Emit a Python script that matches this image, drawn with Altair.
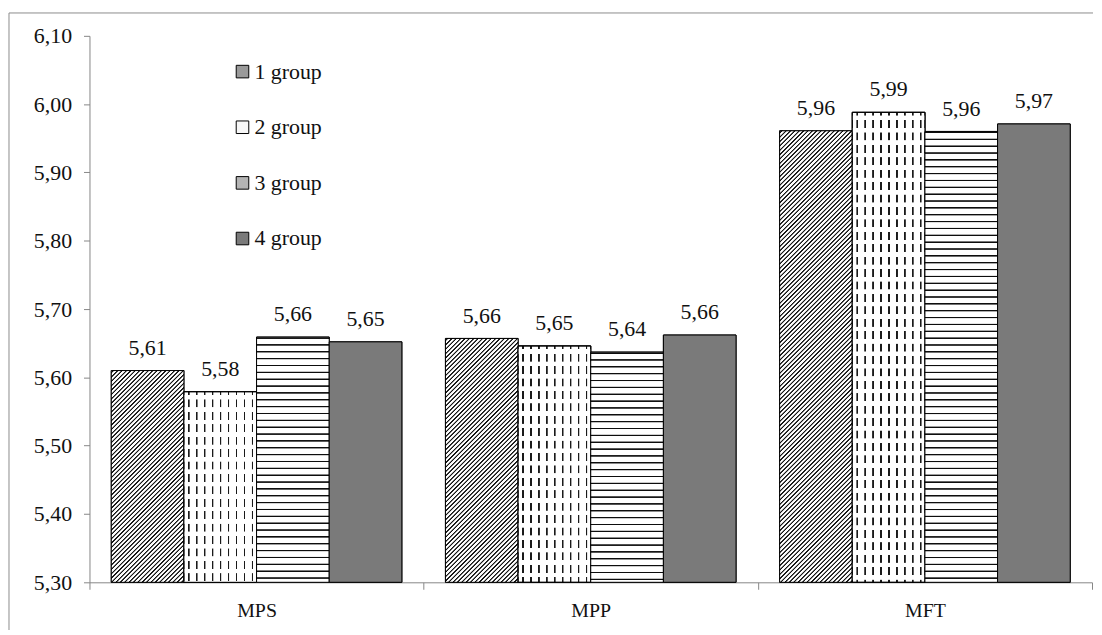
import altair as alt
import pandas as pd

# ---------------- data ----------------
categories = ["MPS", "MPP", "MFT"]
groups = ["1 group", "2 group", "3 group", "4 group"]
values_mps = [5.610, 5.579, 5.659, 5.652]
values_mpp = [5.657, 5.646, 5.637, 5.662]
values_mft = [5.961, 5.988, 5.960, 5.971]
y_ticks = [5.30, 5.40, 5.50, 5.60, 5.70, 5.80, 5.90, 6.00, 6.10]
legend_colors = ["#9a9a9a", "#f7f7f7", "#b4b4b4", "#7a7a7a"]

rows = []
for cat, vals in zip(categories, [values_mps, values_mpp, values_mft]):
    for g, v in zip(groups, vals):
        rows.append({"category": cat, "group": g, "value": v})
df = pd.DataFrame(rows)
df["label"] = df["value"].map(lambda v: f"{v:.2f}".replace(".", ","))

# ---------------- layout ----------------
W, H = 1009, 550
Y_MIN, Y_MAX = 5.30, 6.10
PAD_OUTER = 0.30
px_per_unit = H / (Y_MAX - Y_MIN)
bar_w = (W / len(categories)) / (len(groups) + 2 * PAD_OUTER)
FONT = "Liberation Serif"


def stripe_stops(length, period, core, edge, line, bg, start=0.0):
    """Soft-edged stripes (pattern fill emulated with a linear gradient)."""
    stops = [{"offset": 0, "color": bg}]
    a = start
    last = 0.0
    while a < length:
        pts = [(a, bg), (a + edge, line), (a + edge + core, line),
               (a + 2 * edge + core, bg)]
        for p, c in pts:
            p = min(max(p, last), length)
            last = p
            stops.append({"offset": round(p / length, 5), "color": c})
        a += period
    stops.append({"offset": 1, "color": bg})
    return stops


def grad(stops, x1, y1, x2, y2):
    return {"gradient": "linear", "x1": x1, "y1": y1, "x2": x2, "y2": y2,
            "stops": stops}


x_enc = alt.X("category:N", sort=categories,
              scale=alt.Scale(domain=categories, paddingInner=0, paddingOuter=0),
              axis=alt.Axis(title=None, labelAngle=0, tickBand="extent",
                            domainColor="#868686", tickColor="#868686",
                            tickSize=7, labelPadding=11, labelFont=FONT,
                            labelFontSize=20, labelColor="#111111", grid=False))
xo_enc = alt.XOffset("group:N", sort=groups,
                     scale=alt.Scale(domain=groups, paddingInner=0,
                                     paddingOuter=PAD_OUTER))
y_enc = alt.Y("value:Q",
              scale=alt.Scale(domain=[Y_MIN, Y_MAX], zero=False, nice=False),
              axis=alt.Axis(title=None, values=y_ticks,
                            labelExpr="replace(format(datum.value, '.2f'), '.', ',')",
                            domainColor="#868686", tickColor="#868686",
                            tickSize=6, labelPadding=12, labelFont=FONT,
                            labelFontSize=22, labelColor="#111111", grid=False))
y2_enc = alt.datum(Y_MIN)

base = alt.Chart(df).mark_bar(stroke="black", strokeWidth=1).encode(
    x=x_enc, xOffset=xo_enc, y=y_enc, y2=y2_enc,
    color=alt.Color("group:N", sort=groups,
                    scale=alt.Scale(domain=groups, range=legend_colors),
                    legend=alt.Legend(title=None, orient="none", legendX=143,
                                      legendY=25, symbolType="square",
                                      symbolSize=160, symbolStrokeColor="black",
                                      symbolStrokeWidth=1, labelFont=FONT,
                                      labelFontSize=22, labelColor="#111111",
                                      rowPadding=34, labelOffset=1, padding=0)),
)

layers = [base]
for _, r in df.iterrows():
    h = (r["value"] - Y_MIN) * px_per_unit
    w = bar_w
    fills = []
    if r["group"] == groups[0]:
        L = w + h
        k = (w + h) / (w * w + h * h)
        fills.append(grad(stripe_stops(L, 4.4, 1.0, 0.7, "#151515", "#ffffff", 1.0),
                          0, 0, round(w * k, 5), round(h * k, 5)))
    elif r["group"] == groups[1]:
        fills.append(grad(stripe_stops(w, 8.0, 1.1, 0.4, "#1a1a1a", "#ffffff", 4.0),
                          0, 0, 1, 0))
        fills.append(grad(stripe_stops(h, 12.5, 4.2, 0.4, "#ffffff",
                                       "rgba(255,255,255,0)", 3.0),
                          0, 0, 0, 1))
    elif r["group"] == groups[2]:
        fills.append(grad(stripe_stops(h, 6.9, 0.8, 0.6, "#0d0d0d", "#ffffff", 0.0),
                          0, 0, 0, 1))
    else:
        fills.append("#7a7a7a")
    flt = (alt.datum.category == r["category"]) & (alt.datum.group == r["group"])
    for f in fills:
        layers.append(
            alt.Chart(df).transform_filter(flt)
            .mark_bar(fill=f, stroke="black", strokeWidth=1)
            .encode(x=x_enc, xOffset=xo_enc, y=y_enc, y2=y2_enc)
        )

labels = alt.Chart(df).mark_text(font=FONT, fontSize=22, baseline="alphabetic",
                                 dy=-16, color="#111111").encode(
    x=x_enc, xOffset=xo_enc, y=y_enc, text="label:N")
layers.append(labels)

frame = pd.DataFrame({"k": [0]})
left_border = alt.Chart(frame).mark_rule(color="#8c8c8c", strokeWidth=1).encode(
    x=alt.value(-81), y=alt.value(-23), y2=alt.value(598))
top_border = alt.Chart(frame).mark_rule(color="#8c8c8c", strokeWidth=1).encode(
    x=alt.value(-81), x2=alt.value(W + 1), y=alt.value(-23))
layers += [left_border, top_border]

chart = alt.layer(*layers).properties(
    width=W, height=H,
    padding={"left": 0, "top": 2, "right": 0, "bottom": 0},
    background="white",
).configure_view(stroke=None)

chart.save("out.html", embed_options={"renderer": "svg", "actions": False})
